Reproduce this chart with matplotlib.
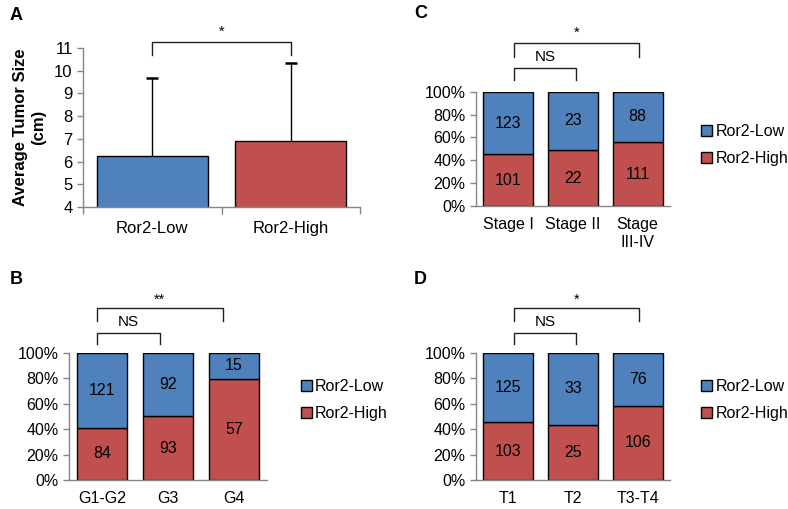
import matplotlib
matplotlib.use("Agg")
import matplotlib.pyplot as plt
from matplotlib.patches import Patch
from matplotlib.ticker import FuncFormatter

plt.rcParams['font.family'] = ['Liberation Sans', 'DejaVu Sans']

# panel A
a_groups = ["Ror2-Low", "Ror2-High"]
a_means = [6.25, 6.9]
a_sd = [3.45, 3.45]

# panels B, C, D (counts per category)
b_cats = ["G1-G2", "G3", "G4"]
b_low = [121, 92, 15]
b_high = [84, 93, 57]

c_cats = ["Stage I", "Stage II", "Stage\nIII-IV"]
c_low = [123, 23, 88]
c_high = [101, 22, 111]

d_cats = ["T1", "T2", "T3-T4"]
d_low = [125, 33, 76]
d_high = [103, 25, 106]

BLUE = "#4F81BD"
RED = "#C0504D"
GRAY = "#868686"
W, H = 788, 509

fig = plt.figure(figsize=(W / 100, H / 100), dpi=100)


def px_axes(left, top, right, bottom):
    return fig.add_axes([left / W, (H - bottom) / H, (right - left) / W, (bottom - top) / H])


def style(ax):
    for s in ["top", "right"]:
        ax.spines[s].set_visible(False)
    for s in ["left", "bottom"]:
        ax.spines[s].set_color(GRAY)
        ax.spines[s].set_linewidth(1.0)
    ax.tick_params(axis="y", colors=GRAY, labelcolor="black", labelsize=11.5, length=4, width=1)


def bracket(ax, x0, x1, y_top, y_drop, label, ty):
    ax.plot([x0, x0, x1, x1], [y_drop, y_top, y_top, y_drop], color="#222222", lw=1.0, clip_on=False)
    ax.text((x0 + x1) / 2, ty, label, ha="center", va="center", fontsize=11 if label == "NS" else 10.5,
            clip_on=False)


def stacked(ax, cats, low, high, brackets, leg_y):
    style(ax)
    x = list(range(len(cats)))
    tot = [l + h for l, h in zip(low, high)]
    hp = [100 * h / t for h, t in zip(high, tot)]
    lp = [100 * l / t for l, t in zip(low, tot)]
    ax.bar(x, hp, width=0.77, color=RED, edgecolor="black", linewidth=1.0, label="Ror2-High")
    ax.bar(x, lp, width=0.77, bottom=hp, color=BLUE, edgecolor="black", linewidth=1.0, label="Ror2-Low")
    for i in x:
        ax.text(i, hp[i] / 2, str(high[i]), ha="center", va="center", fontsize=11.5)
        ax.text(i, hp[i] + lp[i] / 2, str(low[i]), ha="center", va="center", fontsize=11.5)
    ax.set_xlim(-0.5, len(cats) - 0.5)
    ax.set_ylim(0, 100)
    ax.set_yticks(range(0, 101, 20))
    ax.yaxis.set_major_formatter(FuncFormatter(lambda v, p: "%d%%" % v))
    ax.set_xticks(x)
    ax.set_xticklabels(cats, fontsize=11.5)
    ax.tick_params(axis="x", length=0, pad=8)
    for b in brackets:
        bracket(ax, *b)
    handles = [Patch(facecolor=BLUE, edgecolor="black", label="Ror2-Low"),
               Patch(facecolor=RED, edgecolor="black", label="Ror2-High")]
    ax.legend(handles=handles, loc="center left", bbox_to_anchor=leg_y, frameon=False,
              fontsize=11.5, handlelength=0.7, handleheight=0.7, handletextpad=0.2,
              labelspacing=0.75, borderpad=0, borderaxespad=0)


# Panel A
axA = px_axes(83, 48, 360, 207)
style(axA)
axA.bar(range(2), a_means, width=0.8, color=[BLUE, RED], edgecolor="black", linewidth=1.0)
# upper-only error bars, no cap at the bar top
tops = [m + s for m, s in zip(a_means, a_sd)]
axA.vlines(range(2), a_means, tops, color="black", lw=1.0)
axA.plot(range(2), tops, linestyle="none", marker="_", markersize=8, markeredgewidth=1.8, color="black")
axA.set_ylim(4, 11)
axA.set_xlim(-0.5, 1.5)
axA.set_yticks(range(4, 12))
axA.set_xticks(range(2))
axA.set_xticklabels(a_groups, fontsize=12)
axA.set_xticks([-0.5, 0.5, 1.5], minor=True)
axA.tick_params(axis="x", which="major", length=0, pad=10)
axA.tick_params(axis="x", which="minor", length=5, color=GRAY, width=1)
axA.tick_params(axis="y", labelsize=12)
axA.set_ylabel("Average Tumor Size\n(cm)", fontsize=12, fontweight="bold", labelpad=6,
               linespacing=1.25)
bracket(axA, 0, 1, 11.26, 10.69, "*", 11.7)

# Panel B
axB = px_axes(69, 352.7, 267, 480)
stacked(axB, b_cats, b_low, b_high,
        [(-0.08, 1.83, 135, 125, "**", 141.5), (-0.08, 0.88, 115.5, 106.8, "NS", 124)],
        (1.17, 0.63))

# Panel C
axC = px_axes(476, 91.7, 670, 206)
stacked(axC, c_cats, c_low, c_high,
        [(0.09, 2.02, 142.6, 130.4, "*", 151.5), (0.09, 1.04, 120.7, 110.2, "NS", 130.4)],
        (1.16, 0.53))

# Panel D
axD = px_axes(476, 352.7, 670, 480)
stacked(axD, d_cats, d_low, d_high,
        [(0.09, 2.02, 135, 125, "*", 141.5), (0.09, 1.04, 115.5, 106.8, "NS", 124)],
        (1.16, 0.63))

for lbl, xx, yy in [("A", 10, 15), ("C", 414, 13), ("B", 10, 280), ("D", 414, 280)]:
    fig.text(xx / W, 1 - yy / H, lbl, fontsize=13, fontweight="bold", ha="left", va="center")

fig.savefig("out.png", dpi=100)
